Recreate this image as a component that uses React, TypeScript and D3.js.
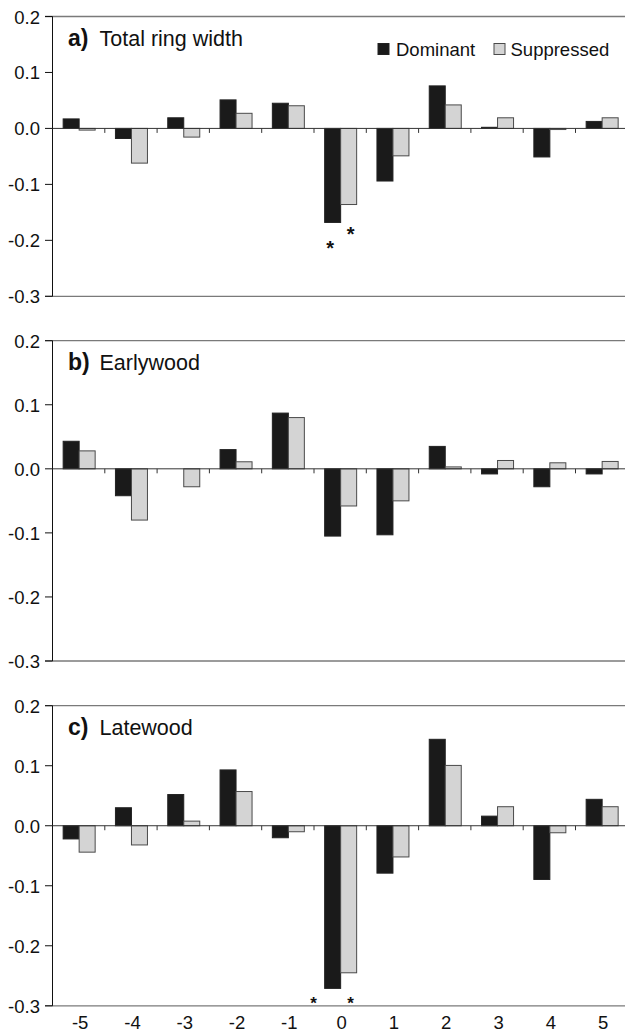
import React from "react";
import * as d3 from "d3";

const categories = [-5, -4, -3, -2, -1, 0, 1, 2, 3, 4, 5];
const yTicks = [0.2, 0.1, 0.0, -0.1, -0.2, -0.3];
const seriesNames = ["Dominant", "Suppressed"];

const totalDominant = [0.017, -0.018, 0.019, 0.051, 0.045, -0.168, -0.094, 0.076, 0.002, -0.051, 0.0125];
const totalSuppressed = [-0.003, -0.062, -0.0155, 0.027, 0.0405, -0.136, -0.049, 0.042, 0.019, -0.002, 0.019];
const earlyDominant = [0.043, -0.042, 0.0, 0.03, 0.087, -0.105, -0.103, 0.035, -0.008, -0.028, -0.008];
const earlySuppressed = [0.028, -0.08, -0.028, 0.011, 0.08, -0.058, -0.05, 0.003, 0.013, 0.0094, 0.0115];
const lateDominant = [-0.022, 0.03, 0.052, 0.093, -0.02, -0.271, -0.079, 0.144, 0.016, -0.0895, 0.044];
const lateSuppressed = [-0.044, -0.032, 0.0077, 0.057, -0.01, -0.245, -0.052, 0.1005, 0.0317, -0.0117, 0.0317];

// significance marks: category, series index, value level where the star sits
const sigTotal = [
  { cat: 0, series: 0, v: -0.204 },
  { cat: 0, series: 1, v: -0.179 },
];
const sigLate = [
  { cat: 0, series: 0, v: -0.288 },
  { cat: 0, series: 1, v: -0.288 },
];

const W = 625;
const H = 1033;
const FONT = "'Liberation Sans', Arial, Helvetica, sans-serif";
const LEFT = 52.5;
const STEP = 52.3;
const BAR_W = 16;
const DARK = "#1a1a1a";
const LIGHT = "#d4d4d4";
const TICK_FS = 18.5;

const panels = [
  { key: "a", letter: "a)", title: "Total ring width", top: 16.5, bottom: 296.3, dom: totalDominant, sup: totalSuppressed, sig: sigTotal, starNudge: [-2.5, 2], starFs: 20, legend: true, xLabels: false },
  { key: "b", letter: "b)", title: "Earlywood", top: 340.7, bottom: 661, dom: earlyDominant, sup: earlySuppressed, sig: [], starNudge: [0, 0], starFs: 17, legend: false, xLabels: false },
  { key: "c", letter: "c)", title: "Latewood", top: 705.7, bottom: 1005.8, dom: lateDominant, sup: lateSuppressed, sig: sigLate, starNudge: [-19, 2], starFs: 17, legend: false, xLabels: true },
];

const x = d3
  .scaleBand<number>()
  .domain(categories)
  .range([LEFT, LEFT + STEP * categories.length])
  .padding(0);

function Panel({ p }: { p: (typeof panels)[number] }) {
  const y = d3.scaleLinear().domain([-0.3, 0.2]).range([p.bottom, p.top]);
  const y0 = y(0);
  const bars: React.ReactNode[] = [];
  categories.forEach((c, i) => {
    const cx = (x(c) as number) + x.bandwidth() / 2 + 0.5;
    [p.dom[i], p.sup[i]].forEach((v, s) => {
      const yv = y(v);
      const top = Math.min(yv, y0);
      const h = Math.abs(yv - y0);
      bars.push(
        <rect
          key={`${c}-${s}`}
          x={s === 0 ? cx - BAR_W : cx}
          y={top}
          width={BAR_W}
          height={h}
          fill={s === 0 ? DARK : LIGHT}
          stroke={s === 0 ? "#222" : "#4a4a4a"}
          strokeWidth={1}
        />
      );
    });
  });

  const boundaries = categories.slice(1).map((c) => x(c) as number);

  return (
    <g>
      <line x1={45} x2={W} y1={p.top} y2={p.top} stroke="#7a7a7a" strokeWidth={1.3} />
      <line x1={45} x2={W} y1={p.bottom} y2={p.bottom} stroke="#7a7a7a" strokeWidth={1.3} />
      <line x1={LEFT} x2={LEFT} y1={p.top} y2={p.bottom} stroke="#111" strokeWidth={1} />
      {yTicks.map((t) => (
        <g key={t}>
          <line x1={45} x2={LEFT} y1={y(t)} y2={y(t)} stroke="#111" strokeWidth={1} />
          <text x={40} y={y(t) + 7} textAnchor="end" fontSize={TICK_FS} fontFamily={FONT} fill="#111">
            {t.toFixed(1)}
          </text>
        </g>
      ))}
      {bars}
      <line x1={LEFT} x2={W} y1={y0} y2={y0} stroke="#333" strokeWidth={1} />
      {boundaries.map((b, i) => (
        <line key={i} x1={b} x2={b} y1={y0} y2={y0 + 4.5} stroke="#333" strokeWidth={1} />
      ))}
      <text x={68} y={p.top + 29} fontSize={23} fontWeight="bold" fontFamily={FONT} fill="#111">
        {p.letter}
      </text>
      <text x={99.5} y={p.top + 29} fontSize={21.5} fontFamily={FONT} fill="#111">
        {p.title}
      </text>
      {p.sig.map((s, i) => {
        const cx = (x(s.cat) as number) + x.bandwidth() / 2 + 0.5;
        const bx = s.series === 0 ? cx - BAR_W / 2 : cx + BAR_W / 2;
        return (
          <text
            key={i}
            x={bx + p.starNudge[s.series]}
            y={y(s.v) + p.starFs * 0.6}
            textAnchor="middle"
            fontSize={p.starFs}
            fontWeight="bold"
            fontFamily={FONT}
            fill="#111"
          >
            *
          </text>
        );
      })}
      {p.legend && (
        <g>
          <rect x={378} y={43.5} width={11} height={11} fill={DARK} stroke="#222" strokeWidth={1} />
          <text x={396} y={56} fontSize={18.5} fontFamily={FONT} fill="#111">
            {seriesNames[0]}
          </text>
          <rect x={494} y={43.5} width={11} height={11} fill={LIGHT} stroke="#4a4a4a" strokeWidth={1} />
          <text x={510.5} y={56} fontSize={18.5} fontFamily={FONT} fill="#111">
            {seriesNames[1]}
          </text>
        </g>
      )}
      {p.xLabels &&
        categories.map((c) => (
          <text
            key={c}
            x={(x(c) as number) + x.bandwidth() / 2 + 1.5}
            y={1029}
            textAnchor="middle"
            fontSize={TICK_FS}
            fontFamily={FONT}
            fill="#111"
          >
            {String(c)}
          </text>
        ))}
    </g>
  );
}

export default function App() {
  return (
    <svg
      width={W}
      height={H}
      viewBox={`0 0 ${W} ${H}`}
      style={{ position: "absolute", left: 0, top: 0, background: "#fff" }}
    >
      <rect x={0} y={0} width={W} height={H} fill="#fff" />
      {panels.map((p) => (
        <Panel key={p.key} p={p} />
      ))}
    </svg>
  );
}
